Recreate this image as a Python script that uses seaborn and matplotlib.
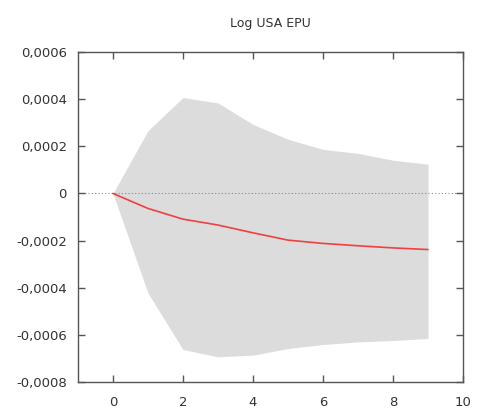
import numpy as np
import pandas as pd
import matplotlib
matplotlib.use('Agg')
import matplotlib.pyplot as plt
import matplotlib.ticker as mticker
import seaborn as sns

## Impulse response data
periods = [0, 1, 2, 3, 4, 5, 6, 7, 8, 9]
response = [0.0, -0.0000636, -0.000109, -0.000134, -0.000167, -0.000198,
            -0.000212, -0.000222, -0.000231, -0.000238]
upper_band = [0.0, 0.000266, 0.000407, 0.000384, 0.000293, 0.000230,
              0.000187, 0.000170, 0.000141, 0.000124]
lower_band = [0.0, -0.000422, -0.000662, -0.000693, -0.000686, -0.000658,
              -0.000641, -0.000630, -0.000624, -0.000615]

df = pd.DataFrame({'period': periods, 'response': response,
                   'upper': upper_band, 'lower': lower_band})

sns.set_style('ticks')
plt.rcParams['font.family'] = ['DejaVu Sans']
plt.rcParams.update({'xtick.direction': 'in', 'ytick.direction': 'in',
                     'axes.axisbelow': False})

fig = plt.figure(figsize=(4.81, 4.08), dpi=100)
ax = fig.add_axes([0.162, 0.0637, 0.8006, 0.8088])

ax.fill_between(df['period'], df['lower'], df['upper'],
                color='#dcdcdc', linewidth=0, zorder=1)
ax.axhline(0, color='#888888', linestyle=(0, (1, 2)), linewidth=0.8, zorder=2)
sns.lineplot(data=df, x='period', y='response', color='#f04040',
             linewidth=1.2, ax=ax, zorder=3)

ax.set_xlim(-1, 10)
ax.set_ylim(-0.0008, 0.0006)
ax.set_xticks([0, 2, 4, 6, 8, 10])
ax.set_yticks(np.arange(-0.0008, 0.00061, 0.0002))
ax.yaxis.set_major_formatter(mticker.FuncFormatter(
    lambda v, p: '0' if abs(v) < 1e-12 else f'{v:.4f}'.replace('.', ',')))

ax.set_xlabel('')
ax.set_ylabel('')
ax.set_title('Log USA EPU', fontsize=9, color='#333333', pad=18)

ax.set_axisbelow(False)
for sp in ax.spines.values():
    sp.set_visible(True)
    sp.set_color('#555555')
    sp.set_linewidth(1.0)
ax.minorticks_off()
ax.tick_params(which='major', direction='in', length=5, width=1.0,
               color='#555555', bottom=True, left=True, top=True, right=True,
               labelsize=9.5, labelcolor='#333333')
ax.tick_params(axis='y', pad=8)
ax.tick_params(axis='x', pad=10)

plt.savefig('out.png', dpi=100)
